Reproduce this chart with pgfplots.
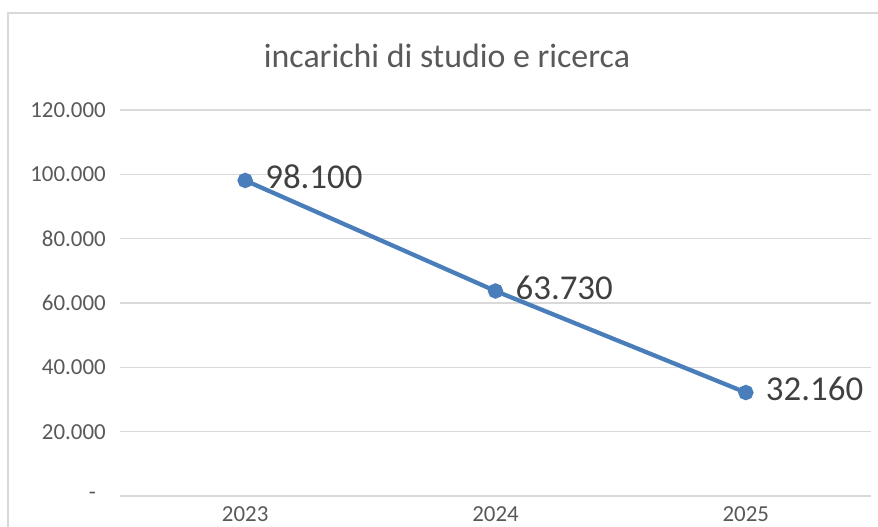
\documentclass[border=0pt]{standalone}
\usepackage{pgfplots}
\pgfplotsset{compat=1.18}
\usepackage{fontspec}
\setmainfont{Carlito}
\definecolor{lineblue}{HTML}{4A7EBB}
\definecolor{gridgray}{HTML}{D9D9D9}
\definecolor{txtgray}{HTML}{595959}
\definecolor{lblgray}{HTML}{404040}
\begin{document}
\begin{tikzpicture}[x=1bp,y=1bp]
\path[use as bounding box] (0,0) rectangle (878,527);
\draw[gridgray, line width=1.2bp] (8,-20) rectangle (900,514);
\node[text=txtgray, font=\fontsize{34}{38}\selectfont, inner sep=0pt] at (447,471.5) {incarichi di studio e ricerca};
\begin{axis}[at={(120bp,31bp)}, anchor=south west, scale only axis,
  width=751bp, height=386bp,
  xmin=-0.5, xmax=2.5, ymin=0, ymax=120000,
  axis line style={draw=none},
  ytick={0,20000,40000,60000,80000,100000,120000},
  yticklabels={-\hspace*{10bp},20.000,40.000,60.000,80.000,100.000,120.000},
  xtick={0,1,2}, xticklabels={2023,2024,2025},
  major tick length=0pt,
  ymajorgrids, grid style={gridgray, line width=1.2bp},
  tick label style={text=txtgray, font=\fontsize{23}{26}\selectfont, inner sep=0pt},
  yticklabel style={anchor=east, xshift=-14bp},
  xticklabel style={anchor=north, yshift=-10bp},
  clip=false,
  scaled y ticks=false,
]
\addplot[lineblue, line width=4.3bp, mark=*, mark size=5.5bp,
  mark options={fill=lineblue, draw=none},
  point meta=explicit symbolic,
  nodes near coords={\pgfplotspointmeta},
  every node near coord/.style={anchor=west, inner sep=0pt, xshift=18bp, yshift=3.5bp,
    text=lblgray, font=\fontsize{35}{39}\selectfont}]
  coordinates {(0,98100) [98.100] (1,63730) [63.730] (2,32160) [32.160]};
\end{axis}
\end{tikzpicture}
\end{document}
